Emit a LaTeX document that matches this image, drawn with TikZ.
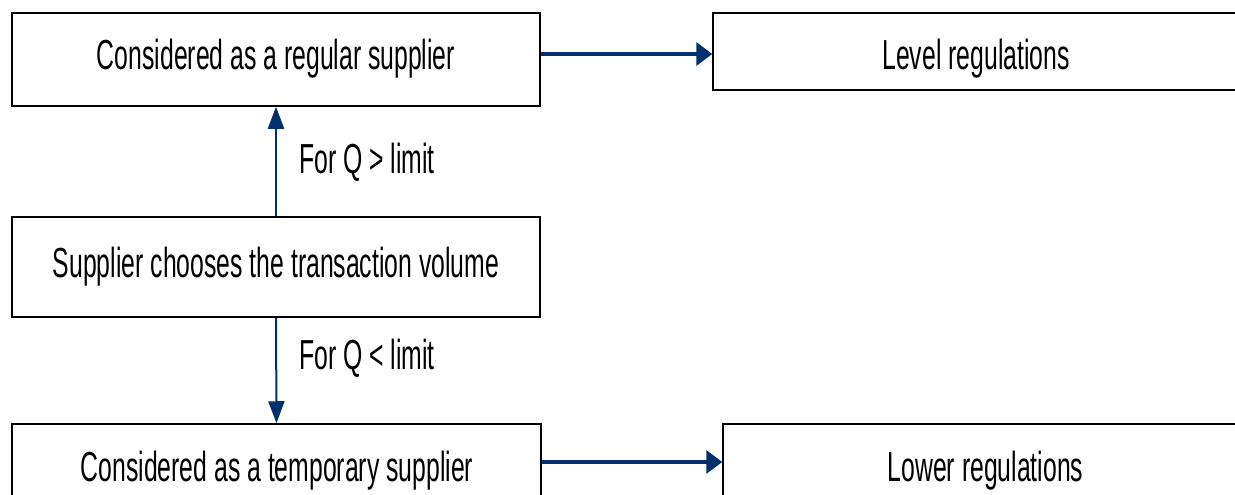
\documentclass[tikz,border=0pt]{standalone}
\usepackage{fontspec}
\setmainfont[FakeStretch=0.59]{Liberation Sans}
\usetikzlibrary{arrows.meta}
\definecolor{navy}{RGB}{0,48,110}
\tikzset{
  box/.style={draw=black, line width=1.5pt, fill=white, rectangle, inner sep=0pt},
  boxtext/.style={font=\fontsize{42}{50}\selectfont, anchor=base, inner sep=0pt},
  cond/.style={font=\fontsize{42}{50}\selectfont, anchor=base west, inner sep=0pt},
  harrow/.style={draw=navy, line width=3.3pt, -{Triangle[length=16pt,width=23pt]}},
  varrow/.style={draw=navy, line width=2pt, -{Triangle[length=22pt,width=16pt]}}
}
\begin{document}
\begin{tikzpicture}[x=1pt, y=-1pt]
  \useasboundingbox (0,0) rectangle (1235,495);
  \clip (0,0) rectangle (1235,495);

  % boxes
  \node[box, minimum width=528pt, minimum height=93pt] (regular) at (276,59.5) {};
  \node[box, minimum width=528pt, minimum height=100pt] (choose) at (276,267) {};
  \node[box, minimum width=529pt, minimum height=92pt] (temp) at (276.5,470) {};
  \node[box, minimum width=526pt, minimum height=77pt] (level) at (976,51.5) {};
  \node[box, minimum width=525pt, minimum height=92pt] (lower) at (985.5,470) {};

  % box texts
  \node[boxtext] (tregular) at (276,70) {Considered as a regular supplier};
  \node[boxtext] (tchoose) at (276,277.5) {Supplier chooses the transaction volume};
  \node[boxtext] (ttemp) at (277,481) {Considered as a temporary supplier};
  \node[boxtext] (tlevel) at (976,70) {Level regulations};
  \node[boxtext] (tlower) at (985.5,481) {Lower regulations};

  % branch conditions
  \node[cond] (up) at (299,173) {For Q > limit};
  \node[cond] (down) at (299,369) {For Q < limit};

  % connectors
  \draw[varrow] (choose.north) -- (regular.south);
  \draw[varrow] (choose.south) -- (temp.north);
  \draw[harrow] (regular.east |- 0,54) -- (level.west |- 0,54);
  \draw[harrow] (temp.east |- 0,462) -- (lower.west |- 0,462);
\end{tikzpicture}
\end{document}
